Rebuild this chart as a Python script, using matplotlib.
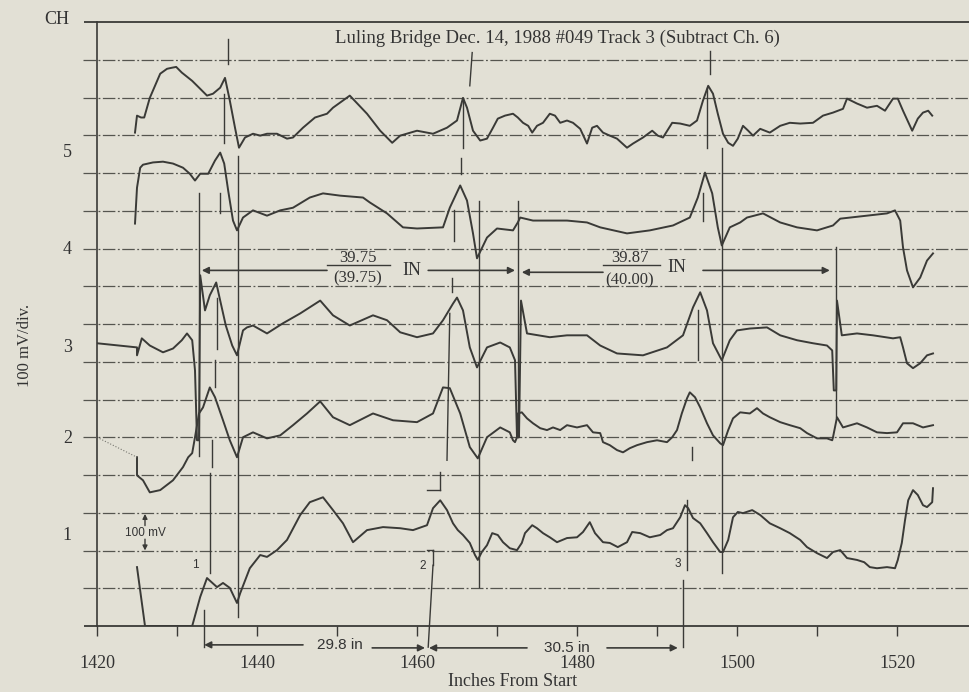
import numpy as np
import matplotlib.pyplot as plt

# traces: x in inches from start, y in divisions (100 mV / div)
ch5_x = [1424.75, 1425.0, 1425.5, 1425.9, 1426.6, 1427.25, 1427.9, 1428.75, 1429.4, 1429.9,
         1430.6, 1431.25, 1431.9, 1432.9, 1433.75, 1434.5, 1435.4, 1436.0, 1436.6, 1437.25,
         1437.75, 1438.5, 1439.5, 1440.4, 1441.25, 1442.5, 1443.75, 1444.5, 1445.75, 1447.25,
         1448.75, 1449.5, 1451.6, 1453.75, 1455.4, 1456.9, 1457.9, 1460.0, 1462.0, 1463.75,
         1465.0, 1465.75, 1466.25, 1467.0, 1467.9, 1468.75, 1469.5, 1470.1, 1471.0, 1472.0,
         1472.6, 1473.25, 1473.9, 1474.4, 1475.0, 1475.75, 1476.6, 1477.25, 1477.9, 1478.75,
         1479.5, 1480.4, 1481.25, 1481.9, 1482.5, 1483.25, 1484.1, 1485.0, 1486.25, 1487.0,
         1488.25, 1489.4, 1490.1, 1490.75, 1491.9, 1492.9, 1494.1, 1495.0, 1495.75, 1496.4,
         1497.0, 1497.6, 1498.25, 1498.9, 1499.5, 1500.1, 1500.75, 1501.4, 1502.0, 1502.9,
         1504.1, 1505.4, 1506.6, 1507.9, 1509.5, 1510.75, 1512.0, 1513.25, 1513.75, 1515.0,
         1516.25, 1517.5, 1518.5, 1519.5, 1520.1, 1520.75, 1521.9, 1522.6, 1523.25, 1523.9,
         1524.4]
ch5_y = [13.07, 13.52, 13.47, 13.47, 13.99, 14.31, 14.63, 14.76, 14.79, 14.81,
         14.66, 14.55, 14.44, 14.23, 14.05, 14.10, 14.26, 14.52, 13.92, 13.20,
         12.67, 12.94, 13.04, 12.99, 13.04, 13.04, 12.91, 12.94, 13.20, 13.47,
         13.57, 13.73, 14.05, 13.57, 13.12, 12.80, 12.99, 13.12, 13.04, 13.20,
         13.39, 13.99, 13.73, 13.12, 12.86, 12.91, 13.20, 13.44, 13.52, 13.57,
         13.47, 13.33, 13.25, 13.07, 13.25, 13.33, 13.57, 13.52, 13.33, 13.39,
         13.33, 13.17, 12.78, 13.20, 13.25, 13.07, 12.99, 12.91, 12.67, 12.78,
         12.94, 13.12, 12.99, 12.94, 13.33, 13.31, 13.25, 13.39, 13.92, 14.31,
         14.10, 13.57, 13.04, 12.80, 12.72, 12.91, 13.25, 13.12, 12.99, 13.17,
         13.07, 13.25, 13.33, 13.31, 13.33, 13.52, 13.60, 13.70, 13.97, 13.84,
         13.73, 13.78, 13.65, 13.97, 13.97, 13.65, 13.12, 13.44, 13.60, 13.65,
         13.52]

ch4_x = [1424.75, 1425.0, 1425.4, 1425.75, 1427.0, 1428.25, 1429.5, 1430.75, 1431.6, 1432.25,
         1432.9, 1433.9, 1434.75, 1435.4, 1435.9, 1436.4, 1437.0, 1437.5, 1438.25, 1439.5,
         1441.25, 1442.9, 1444.5, 1446.6, 1448.25, 1450.4, 1453.25, 1454.1, 1456.25, 1458.25,
         1460.0, 1463.25, 1464.1, 1465.4, 1466.25, 1467.0, 1467.5, 1468.75, 1470.0, 1472.0,
         1472.6, 1472.9, 1474.5, 1478.75, 1481.25, 1482.9, 1486.25, 1489.1, 1492.0, 1494.1,
         1495.1, 1496.0, 1496.9, 1497.6, 1498.1, 1499.1, 1500.4, 1501.25, 1503.25, 1505.4,
         1507.5, 1510.0, 1512.0, 1512.9, 1516.25, 1518.75, 1519.75, 1520.4, 1520.75, 1521.25,
         1522.0, 1522.9, 1523.75, 1524.5]
ch4_y = [10.66, 11.61, 12.14, 12.22, 12.28, 12.30, 12.25, 12.14, 11.98, 11.80,
         11.98, 11.98, 12.33, 12.54, 12.25, 11.53, 10.74, 10.48, 10.82, 11.01,
         10.87, 11.01, 11.08, 11.35, 11.46, 11.40, 11.35, 11.22, 10.93, 10.56,
         10.53, 10.56, 11.08, 11.67, 11.27, 10.40, 9.74, 10.29, 10.53, 10.48,
         10.69, 10.82, 10.74, 10.74, 10.69, 10.56, 10.40, 10.48, 10.61, 10.82,
         11.35, 12.01, 11.46, 10.56, 10.08, 10.56, 10.69, 10.82, 10.93, 10.69,
         10.56, 10.48, 10.61, 10.79, 10.87, 10.93, 11.01, 10.74, 10.03, 9.42,
         8.97, 9.23, 9.68, 9.87]

ch3_x = [1420.0, 1425.0, 1425.0, 1425.6, 1426.6, 1428.25, 1429.5, 1430.6, 1431.25, 1431.9,
         1432.25, 1432.5, 1432.75, 1432.9, 1433.5, 1434.1, 1434.9, 1435.4, 1436.1, 1436.9,
         1437.5, 1438.25, 1438.75, 1439.5, 1441.25, 1443.25, 1445.4, 1447.9, 1449.5, 1451.6,
         1454.5, 1456.25, 1457.9, 1460.0, 1462.0, 1463.25, 1464.5, 1465.0, 1465.75, 1466.6,
         1467.5, 1468.75, 1470.4, 1471.6, 1472.25, 1472.5, 1472.75, 1473.0, 1473.75, 1476.6,
         1478.75, 1481.25, 1482.9, 1485.0, 1488.25, 1491.25, 1493.25, 1494.5, 1495.4, 1496.25,
         1497.0, 1498.1, 1499.1, 1500.0, 1501.6, 1503.75, 1505.4, 1507.5, 1509.5, 1511.25,
         1511.9, 1512.1, 1512.4, 1512.5, 1513.1, 1515.0, 1517.0, 1519.5, 1520.4, 1520.75,
         1521.25, 1522.0, 1522.9, 1523.75, 1524.5]
ch3_y = [7.49, 7.38, 7.17, 7.62, 7.43, 7.25, 7.35, 7.57, 7.75, 7.57,
         6.77, 4.92, 4.92, 9.29, 8.36, 8.76, 9.10, 8.62, 7.96, 7.43,
         7.17, 7.83, 7.91, 7.96, 7.75, 8.02, 8.28, 8.62, 8.23, 7.96,
         8.23, 8.10, 7.78, 7.65, 7.75, 8.10, 8.54, 8.70, 8.36, 7.38,
         6.85, 7.38, 7.51, 7.38, 7.04, 5.00, 5.00, 8.62, 7.75, 7.65,
         7.70, 7.70, 7.43, 7.22, 7.17, 7.38, 7.70, 8.44, 8.84, 8.36,
         7.49, 7.04, 7.57, 7.83, 7.88, 7.91, 7.70, 7.57, 7.49, 7.43,
         7.30, 6.24, 6.24, 8.62, 7.70, 7.75, 7.70, 7.62, 7.65, 7.38,
         6.96, 6.83, 6.96, 7.17, 7.22]

ch2_lead_x = [1420.0, 1425.0]
ch2_lead_y = [5.0, 4.47]
ch2_x = [1425.0, 1425.0, 1425.75, 1426.6, 1427.9, 1429.5, 1430.75, 1431.4, 1431.9, 1432.25,
         1432.75, 1433.25, 1434.1, 1434.75, 1435.75, 1436.6, 1437.5, 1438.25, 1439.5, 1441.25,
         1442.9, 1444.5, 1446.25, 1447.9, 1449.5, 1451.6, 1454.5, 1457.0, 1460.0, 1462.0,
         1463.25, 1464.1, 1465.4, 1466.6, 1467.6, 1468.75, 1470.4, 1471.6, 1472.0, 1472.25,
         1472.5, 1472.6, 1473.1, 1473.75, 1474.5, 1475.4, 1476.25, 1477.0, 1477.9, 1478.75,
         1480.0, 1481.25, 1482.0, 1482.9, 1483.25, 1484.1, 1485.0, 1485.75, 1486.6, 1487.5,
         1488.75, 1490.0, 1491.25, 1491.9, 1492.5, 1493.1, 1493.75, 1494.1, 1494.75, 1495.4,
         1496.25, 1497.0, 1497.9, 1498.25, 1498.9, 1499.5, 1500.4, 1501.6, 1502.5, 1503.25,
         1504.1, 1505.4, 1506.6, 1507.9, 1508.75, 1510.0, 1511.25, 1511.9, 1512.0, 1512.5,
         1513.25, 1515.0, 1516.25, 1517.5, 1518.75, 1520.0, 1520.75, 1522.0, 1523.25, 1524.5]
ch2_y = [4.47, 3.99, 3.86, 3.54, 3.60, 3.86, 4.21, 4.47, 4.58, 5.00,
         5.63, 5.79, 6.32, 6.06, 5.45, 4.92, 4.47, 5.00, 5.13, 4.97,
         5.05, 5.32, 5.63, 5.95, 5.53, 5.32, 5.63, 5.45, 5.40, 5.63,
         6.32, 6.30, 5.63, 4.74, 4.44, 5.00, 5.26, 5.13, 4.92, 4.87,
         5.00, 5.63, 5.66, 5.50, 5.37, 5.24, 5.19, 5.26, 5.19, 5.32,
         5.26, 5.32, 5.13, 5.11, 4.87, 4.79, 4.66, 4.60, 4.71, 4.79,
         4.87, 4.92, 4.87, 5.00, 5.19, 5.63, 6.03, 6.19, 6.06, 5.79,
         5.37, 5.05, 4.84, 4.79, 5.19, 5.50, 5.66, 5.63, 5.77, 5.63,
         5.53, 5.40, 5.32, 5.24, 5.11, 4.97, 4.97, 4.92, 5.00, 5.53,
         5.26, 5.37, 5.26, 5.13, 5.11, 5.13, 5.37, 5.37, 5.26, 5.32]

ch1_x = [1425.0, 1426.0, 1431.9, 1432.9, 1433.75, 1435.0, 1435.75, 1436.6, 1437.5, 1437.9,
         1439.1, 1440.4, 1441.25, 1442.5, 1443.75, 1445.4, 1446.6, 1448.25, 1449.5, 1450.75,
         1452.0, 1453.75, 1455.75, 1457.9, 1459.5, 1461.25, 1462.0, 1462.9, 1463.75, 1464.5,
         1465.1, 1465.75, 1466.6, 1467.25, 1467.6, 1468.1, 1468.75, 1469.4, 1470.1, 1470.75,
         1471.6, 1472.5, 1473.1, 1473.5, 1474.4, 1475.0, 1475.75, 1476.6, 1477.5, 1478.75,
         1480.0, 1480.75, 1481.6, 1482.25, 1483.25, 1484.1, 1485.1, 1486.25, 1486.9, 1487.9,
         1489.1, 1490.4, 1491.25, 1492.0, 1492.9, 1493.5, 1493.9, 1494.5, 1495.4, 1496.25,
         1497.0, 1497.9, 1498.25, 1498.9, 1499.5, 1500.1, 1500.75, 1501.9, 1502.9, 1504.1,
         1505.4, 1506.6, 1507.9, 1508.75, 1510.0, 1511.25, 1512.0, 1512.9, 1513.75, 1515.0,
         1515.9, 1516.6, 1517.5, 1518.75, 1519.75, 1520.1, 1520.6, 1521.0, 1521.4, 1522.0,
         1522.6, 1523.25, 1523.75, 1524.4, 1524.5]
ch1_y = [1.56, 0.0, 0.0, 0.77, 1.27, 1.03, 1.14, 1.01, 0.61, 0.87,
         1.53, 1.88, 1.83, 2.01, 2.28, 2.94, 3.28, 3.41, 3.07, 2.72,
         2.22, 2.54, 2.62, 2.59, 2.54, 2.67, 3.12, 3.33, 3.07, 2.72,
         2.54, 2.41, 2.20, 1.88, 1.75, 1.96, 2.14, 2.46, 2.41, 2.22,
         2.06, 2.01, 2.20, 2.46, 2.67, 2.59, 2.46, 2.35, 2.22, 2.33,
         2.35, 2.49, 2.75, 2.46, 2.22, 2.20, 2.09, 2.22, 2.49, 2.46,
         2.35, 2.41, 2.54, 2.59, 2.88, 3.20, 3.12, 2.86, 2.72, 2.46,
         2.22, 1.96, 1.96, 2.28, 2.88, 3.02, 2.99, 3.07, 2.94, 2.72,
         2.59, 2.46, 2.28, 2.09, 1.93, 1.80, 1.96, 2.01, 1.80, 1.75,
         1.69, 1.56, 1.53, 1.56, 1.53, 1.75, 2.20, 2.80, 3.33, 3.60,
         3.47, 3.20, 3.15, 3.28, 3.65]

ch_pos = [12.59, 10.03, 7.43, 5.03, 2.46]
ch_labels = ['5', '4', '3', '2', '1']
grid_y = list(range(1, 16))
x_major = [1420, 1440, 1460, 1480, 1500, 1520]
x_minor = [1430, 1450, 1470, 1490, 1510]

# vertical marker lines (x, y_bottom, y_top)
marks_v = [(1432.75, 4.5, 11.48), (1437.6, 0.24, 12.46), (1467.75, 1.03, 11.27),
           (1472.6, 5.0, 11.27), (1498.1, 1.40, 12.65), (1512.4, 5.53, 10.03)]
# broken peak alignment lines (x0, y0, x1, y1)
peak_segs = [(1436.4, 15.56, 1436.4, 14.89), (1435.9, 14.10, 1435.9, 12.80),
             (1435.4, 11.48, 1435.4, 10.93), (1435.0, 8.70, 1435.0, 7.35),
             (1434.75, 7.04, 1434.75, 6.32), (1434.4, 4.92, 1434.4, 4.21),
             (1434.1, 4.05, 1434.1, 1.40), (1433.4, 0.42, 1433.4, -0.56),
             (1466.9, 15.19, 1466.6, 14.31), (1465.75, 13.99, 1465.75, 12.67),
             (1465.5, 12.41, 1465.5, 11.98), (1464.6, 11.01, 1464.6, 10.21),
             (1464.4, 9.21, 1464.4, 8.84), (1464.1, 8.28, 1463.75, 4.39),
             (1462.9, 4.07, 1462.9, 3.60), (1461.25, 3.60, 1462.9, 3.60),
             (1461.25, 2.01, 1462.0, 2.01), (1462.0, 2.01, 1462.0, 1.61),
             (1462.0, 1.61, 1461.4, -0.56),
             (1496.6, 15.24, 1496.6, 14.63), (1496.25, 14.26, 1496.25, 12.67),
             (1495.75, 11.46, 1495.75, 10.74), (1495.1, 8.36, 1495.1, 7.04),
             (1494.4, 4.74, 1494.4, 4.39), (1493.75, 3.33, 1493.75, 1.48),
             (1493.25, 1.22, 1493.25, -0.56)]
# arrows (x_tail, x_head, y)
arrows = [(1448.75, 1433.1, 9.42), (1461.4, 1472.25, 9.42),
          (1483.25, 1473.1, 9.37), (1495.75, 1511.6, 9.42),
          (1445.75, 1433.4, -0.50), (1454.4, 1461.0, -0.58),
          (1473.75, 1461.5, -0.58), (1483.75, 1492.6, -0.58)]

ink = '#3a3a37'
paper = '#e2e0d5'

fig = plt.figure(figsize=(9.69, 6.92), dpi=100, facecolor=paper)
ax = fig.add_axes([97/969, 66/692, 872/969, 604/692])
ax.set_facecolor(paper)
ax.set_xlim(1420, 1529)
ax.set_ylim(0, 16)

for s in ['top', 'bottom', 'right']:
    ax.spines[s].set_visible(False)
ax.spines['left'].set_color(ink)
ax.spines['left'].set_linewidth(1.2)

# dash-dot reference lines, extending a bit left of the axis
ax.hlines(grid_y, 1418.25, 1529, colors='#55554f', linewidth=0.9,
          linestyles=[(0, (10, 2, 1.5, 2))], clip_on=False)
ax.hlines([0, 16], 1418.4, 1529, colors=ink, linewidth=1.3, clip_on=False)

for xs, ys in [(ch5_x, ch5_y), (ch4_x, ch4_y), (ch3_x, ch3_y), (ch2_x, ch2_y), (ch1_x, ch1_y)]:
    ax.plot(xs, ys, color=ink, lw=1.4, solid_joinstyle='round')
ax.plot(ch2_lead_x, ch2_lead_y, color='#777770', lw=0.8, ls=':')

for x, y0, y1 in marks_v:
    ax.plot([x, x], [y0, y1], color=ink, lw=1.0)
for x0, y0, x1, y1 in peak_segs:
    ax.plot([x0, x1], [y0, y1], color=ink, lw=1.0, clip_on=False)
for xt, xh, y in arrows:
    ax.annotate('', xy=(xh, y), xytext=(xt, y), annotation_clip=False,
                arrowprops=dict(arrowstyle='-|>', color=ink, lw=1.2,
                                mutation_scale=10, shrinkA=0, shrinkB=0))

serif = 'Liberation Serif'
sans = 'Liberation Sans'

ax.set_xticks(x_major)
ax.set_xticklabels([str(v) for v in x_major], family=serif, fontsize=13, color='#333')
ax.set_xticks(x_minor, minor=True)
ax.tick_params(axis='x', which='both', direction='out', length=7, width=1, color=ink, pad=14)
ax.set_yticks(ch_pos)
ax.set_yticklabels(ch_labels, family=serif, fontsize=13, color='#333')
ax.tick_params(axis='y', length=0, pad=18)

ax.text(1477.6, 15.56, 'Luling Bridge Dec. 14, 1988 #049 Track 3 (Subtract Ch. 6)',
        family=serif, fontsize=13.5, color='#333', ha='center', va='center')

# fraction annotations
ax.text(1452.6, 9.74, '39.75', family=serif, fontsize=12, color='#333', ha='center', va='center')
ax.text(1452.6, 9.21, '(39.75)', family=serif, fontsize=12, color='#333', ha='center', va='center')
ax.plot([1448.75, 1456.6], [9.55, 9.55], color=ink, lw=1.0)
ax.text(1459.4, 9.42, 'IN', family=serif, fontsize=13, color='#333', ha='center', va='center')
ax.text(1486.6, 9.76, '39.87', family=serif, fontsize=12, color='#333', ha='center', va='center')
ax.text(1486.6, 9.15, '(40.00)', family=serif, fontsize=12, color='#333', ha='center', va='center')
ax.plot([1483.25, 1490.4], [9.55, 9.55], color=ink, lw=1.0)
ax.text(1492.5, 9.50, 'IN', family=serif, fontsize=13, color='#333', ha='center', va='center')

ax.text(1450.4, -0.50, '29.8 in', family=sans, fontsize=11, color='#333',
        ha='center', va='center', clip_on=False)
ax.text(1478.75, -0.58, '30.5 in', family=sans, fontsize=11, color='#333',
        ha='center', va='center', clip_on=False)

# 100 mV scale marker
ax.text(1426.0, 2.46, '100 mV', family=sans, fontsize=8.5, color='#333', ha='center', va='center')
ax.annotate('', xy=(1426.0, 2.97), xytext=(1426.0, 2.66),
            arrowprops=dict(arrowstyle='-|>', color=ink, lw=1.0, mutation_scale=7,
                            shrinkA=0, shrinkB=0))
ax.annotate('', xy=(1426.0, 2.0), xytext=(1426.0, 2.30),
            arrowprops=dict(arrowstyle='-|>', color=ink, lw=1.0, mutation_scale=7,
                            shrinkA=0, shrinkB=0))
for lx, ly, lab in [(1432.25, 1.61, '1'), (1460.75, 1.59, '2'), (1492.6, 1.64, '3')]:
    ax.text(lx, ly, lab, family=sans, fontsize=8.5, color='#333', ha='center', va='center')

fig.text(57/969, 1 - 20/692, 'CH', family=serif, fontsize=13, color='#333', ha='center', va='center')
fig.text(25/969, 1 - 345/692, '100 mV/div.', family=serif, fontsize=12, color='#333',
         ha='center', va='center', rotation=90)
fig.text(513/969, 1 - 682/692, 'Inches From Start', family=serif, fontsize=13, color='#333',
         ha='center', va='center')

fig.savefig('out.png', dpi=100, facecolor=paper)
